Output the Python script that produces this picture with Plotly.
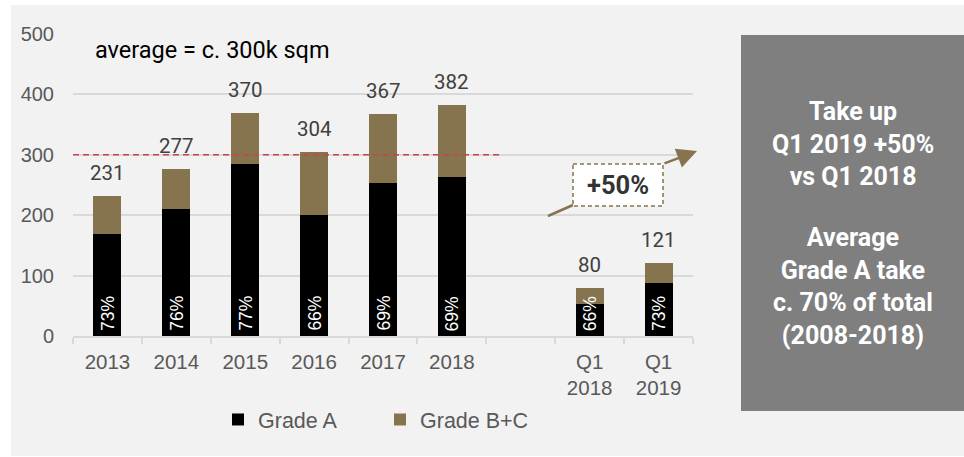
import plotly.graph_objects as go

# Office take-up, thousand sqm
periods = ["2013", "2014", "2015", "2016", "2017", "2018", "Q1<br>2018", "Q1<br>2019"]
grade_a = [169, 211, 285, 201, 253, 264, 53, 88]
grade_bc = [62, 66, 85, 103, 114, 118, 27, 33]
axis_categories = ["2013", "2014", "2015", "2016", "2017", "2018", " ", "Q1<br>2018", "Q1<br>2019"]
average_level = 300
y_ticks = [0, 100, 200, 300, 400, 500]

totals = [a + b for a, b in zip(grade_a, grade_bc)]
shares = [f"{round(100 * a / t)}%" for a, t in zip(grade_a, totals)]
# category slot of every period on the x axis (annotations need positions, not names like "2013")
slots = [axis_categories.index(p) for p in periods]

W, H = 964, 457
PLOT_L, PLOT_R, PLOT_T, PLOT_B = 73, 693, 34, 336

BROWN = "#86744f"
GRID = "#d9d9d9"
TEXT = "#595959"


def px_x(px):
    return (px - PLOT_L) / (PLOT_R - PLOT_L)


def px_y(py):
    return (PLOT_B - py) / (PLOT_B - PLOT_T)


fig = go.Figure()
fig.add_trace(go.Bar(x=periods, y=grade_a, name="Grade A", marker=dict(color="#000000", line_width=0)))
fig.add_trace(go.Bar(x=periods, y=grade_bc, name="Grade B+C", marker=dict(color=BROWN, line_width=0)))

annotations = []
# totals above each stack
for s, t in zip(slots, totals):
    annotations.append(dict(x=s, y=t, xref="x", yref="y", text=str(t), showarrow=False,
                            yanchor="bottom", yshift=9,
                            font=dict(family="Roboto", size=20.5, color="#404040")))
# Grade A share written up the base of each bar
for s, sh in zip(slots, shares):
    annotations.append(dict(x=s, y=0, xref="x", yref="y", text=sh, showarrow=False,
                            textangle=-90, yanchor="bottom", yshift=3,
                            font=dict(family="Liberation Sans, Arial", size=17.5, color="#ffffff")))

annotations.append(dict(xref="paper", yref="paper", x=px_x(93), y=px_y(50), text="average = c. 300k sqm",
                        showarrow=False, xanchor="left", yanchor="middle",
                        font=dict(family="Roboto", size=23.5, color="#000000")))

# growth callout
annotations.append(dict(xref="paper", yref="paper", x=px_x(618), y=px_y(185), text="<b>+50%</b>",
                        showarrow=False, xanchor="center", yanchor="middle",
                        font=dict(family="Roboto", size=25.5, color="#333333")))
annotations.append(dict(xref="paper", yref="paper", x=px_x(697), y=px_y(151), text="",
                        showarrow=True, axref="pixel", ayref="pixel", ax=663 - 697, ay=164 - 151,
                        arrowhead=2, arrowsize=1.6, arrowwidth=2.5, arrowcolor=BROWN,
                        standoff=0, startstandoff=0))

# summary panel text
annotations.append(dict(xref="paper", yref="paper", x=px_x(852.5), y=px_y(143.5),
                        text="<b>Take up<br>Q1 2019 +50%<br>vs Q1 2018</b>",
                        showarrow=False, xanchor="center", yanchor="middle", align="center",
                        font=dict(family="Roboto", size=25, color="#ffffff")))
annotations.append(dict(xref="paper", yref="paper", x=px_x(852.5), y=px_y(286.5),
                        text="<b>Average<br>Grade A take<br>c. 70% of total<br>(2008-2018)</b>",
                        showarrow=False, xanchor="center", yanchor="middle", align="center",
                        font=dict(family="Roboto", size=25, color="#ffffff")))

shapes = [
    # light background panel
    dict(type="rect", xref="paper", yref="paper", layer="below",
         x0=px_x(11), x1=px_x(964), y0=px_y(5), y1=px_y(456),
         fillcolor="#f2f2f2", line_width=0),
    # average line
    dict(type="line", xref="paper", yref="y", x0=0, x1=px_x(499), y0=average_level, y1=average_level,
         line=dict(color="#c9444a", width=1.5, dash="6px,4px")),
    # callout box and leader
    dict(type="line", xref="paper", yref="paper", x0=px_x(548), y0=px_y(216), x1=px_x(573), y1=px_y(205),
         line=dict(color=BROWN, width=2.5)),
    dict(type="rect", xref="paper", yref="paper", x0=px_x(573), x1=px_x(663), y0=px_y(164), y1=px_y(206),
         fillcolor="#ffffff", line=dict(color=BROWN, width=1.5, dash="4px,3px")),
    # summary panel
    dict(type="rect", xref="paper", yref="paper", x0=px_x(741), x1=px_x(964), y0=px_y(35), y1=px_y(411),
         fillcolor="#7f7f7f", line_width=0),
]

fig.update_layout(
    width=W, height=H, autosize=False,
    margin=dict(l=PLOT_L, r=W - PLOT_R, t=PLOT_T, b=H - PLOT_B, pad=0),
    paper_bgcolor="#ffffff", plot_bgcolor="rgba(0,0,0,0)",
    barmode="stack", bargap=0.594,
    font=dict(family="Liberation Sans, Arial", color=TEXT, size=20),
    showlegend=True,
    legend=dict(orientation="h", x=px_x(380), xanchor="center", y=px_y(399), yanchor="top",
                font=dict(size=21.5, color=TEXT), bgcolor="rgba(0,0,0,0)", traceorder="normal",
                entrywidth=117, entrywidthmode="pixels"),
    annotations=annotations, shapes=shapes,
)
fig.update_xaxes(type="category", categoryorder="array", categoryarray=axis_categories,
                 range=[-0.5, len(axis_categories) - 0.5],
                 showgrid=False, showline=True, linecolor=GRID, linewidth=2,
                 tickson="boundaries", ticks="outside", ticklen=6, tickcolor=GRID, tickwidth=1.5,
                 tickfont=dict(size=20.5, color=TEXT), ticklabelstandoff=6, fixedrange=True)
fig.update_yaxes(range=[0, 500], tickvals=y_ticks, showgrid=True, gridcolor=GRID, gridwidth=2,
                 zeroline=False, showline=False, ticks="", tickfont=dict(size=20, color=TEXT),
                 ticklabelstandoff=18, fixedrange=True)

fig.write_html("out.html")
